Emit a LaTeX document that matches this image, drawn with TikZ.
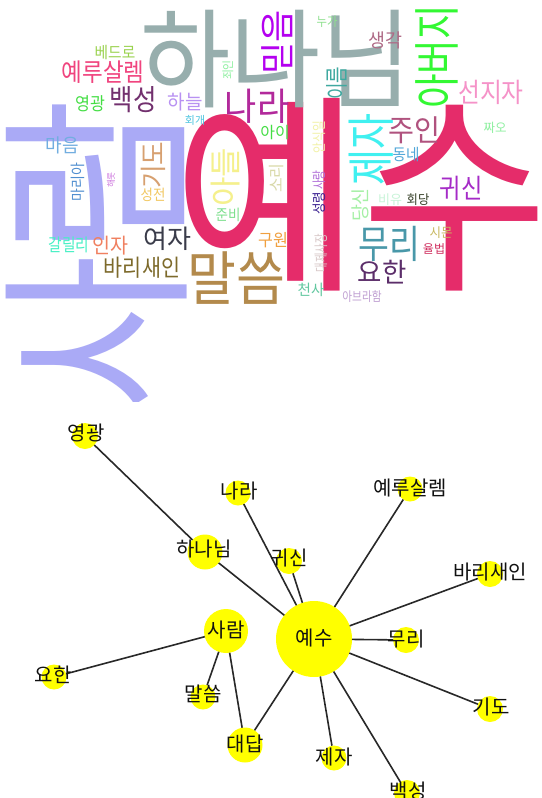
\documentclass[tikz,border=0pt]{standalone}
\usepackage{fontspec}
\usepackage{graphicx}
\newfontfamily\kr{Noto Sans CJK KR}
\tikzset{
  wcs/.style={inner sep=0pt, outer sep=0pt},
  gn/.style={circle, fill={rgb,255:red,255;green,255;blue,0}, draw=none, inner sep=0pt, outer sep=0pt},
  gl/.style={inner sep=0pt, text={rgb,255:red,17;green,17;blue,17}, font=\kr\fontsize{20}{20}\selectfont},
  edge/.style={draw={rgb,255:red,40;green,40;blue,40}, line width=1.6pt}
}
% \wc{name}{x}{y}{size}{hex}{rotate}{xscale}{text}
\newcommand\wc[8]{\definecolor{wctmp}{HTML}{#5}\node[wcs,rotate=#6,text=wctmp,font=\kr\fontsize{#4}{#4}\selectfont] (#1) at (#2,#3) {\scalebox{#7}[1]{#8}};}
\begin{document}
\begin{tikzpicture}[x=1pt,y=-1pt]
\useasboundingbox (0,0) rectangle (541,798);
\fill[white] (0,0) rectangle (541,798);
\begin{scope}
\clip (0,0) rectangle (541,401);
\wc{w2}{97}{255}{200}{AAAAF6}{90}{0.85}{사람}
\wc{w1}{361}{195}{213}{E52C6A}{0}{0.955}{예수}
\wc{w3}{276}{59}{108}{97AEAD}{0}{0.91}{하나님}
\wc{w4}{437}{57}{47}{33F833}{90}{0.8}{아버지}
\wc{w5}{236}{278}{59}{B38A4C}{0}{0.9}{말씀}
\wc{w6}{371}{149}{49}{40F0F0}{90}{0.8}{제자}
\wc{w7}{257}{106}{38}{B2299B}{0}{0.92}{나라}
\wc{w8}{277}{42}{35}{B400F0}{90}{1.0}{믿음}
\wc{w9}{103}{72}{25}{F0447E}{0}{0.9}{예루살렘}
\wc{w10}{133}{100}{29}{72306E}{0}{0.88}{백성}
\wc{w11}{185}{102}{20}{B891F2}{0}{0.95}{하늘}
\wc{w12}{90}{104}{18}{44DE44}{0}{0.9}{영광}
\wc{w13}{115}{53}{16}{9AD24E}{0}{0.92}{베드로}
\wc{w14}{62}{145}{19}{72AEE0}{0}{0.95}{마음}
\wc{w15}{153}{165}{27}{D7A070}{90}{0.95}{기도}
\wc{w16}{226}{177}{32}{F5F08C}{90}{1.0}{아들}
\wc{w17}{414}{130}{30}{B0527E}{0}{0.94}{주인}
\wc{w18}{491}{92}{27}{F592C8}{0}{0.88}{선지자}
\wc{w19}{461}{188}{27}{A52BC7}{0}{0.86}{귀신}
\wc{w20}{389}{244}{39}{4998A9}{0}{0.86}{무리}
\wc{w21}{382}{272}{27}{5C2E6A}{0}{0.98}{요한}
\wc{w22}{167}{239}{26}{3A3C4A}{0}{1.0}{여자}
\wc{w23}{142}{268}{23.5}{7D6A2B}{0}{0.88}{바리새인}
\wc{w24}{110}{246}{21}{F08060}{0}{0.93}{인자}
\wc{w25}{69}{245}{17.6}{48F0C5}{0}{0.84}{갈릴리}
\wc{w26}{337}{83}{23}{3FA9A0}{90}{0.78}{이름}
\wc{w27}{385}{40}{19}{AF6A86}{0}{0.97}{생각}
\wc{w28}{327}{22}{13}{8EE08E}{0}{0.87}{누가}
\wc{w29}{495}{128}{12.5}{8EF0A0}{0}{1.0}{짜오}
\wc{w30}{406}{155}{16}{4FA6D8}{0}{0.91}{동네}
\wc{w31}{418}{200}{13}{353F27}{0}{0.95}{회당}
\wc{w32}{390}{200}{13}{C8F4D8}{0}{1.0}{비유}
\wc{w33}{360}{205}{19}{A5F0A5}{90}{0.97}{당신}
\wc{w34}{319}{180}{14}{B06ED8}{90}{0.77}{사랑}
\wc{w35}{319}{203}{14}{3A2090}{90}{0.89}{성령}
\wc{w36}{319}{137}{14}{F2F2A8}{90}{0.83}{안식일}
\wc{w37}{277}{178}{16}{D9D9A9}{90}{1.0}{소리}
\wc{w38}{275}{133}{16}{44DD44}{0}{1.0}{아이}
\wc{w39}{195}{120}{11}{4FC5E0}{0}{1.0}{회개}
\wc{w40}{228}{70}{12}{8EF0A0}{90}{0.9}{죄인}
\wc{w41}{78}{182}{15}{4F8ED0}{90}{0.93}{마리아}
\wc{w42}{111}{180}{9}{D07EE0}{90}{0.96}{해롯}
\wc{w43}{153}{195}{15}{F2C862}{0}{0.9}{성전}
\wc{w44}{228}{215}{15}{7EE08E}{0}{0.9}{준비}
\wc{w45}{273}{240}{17}{F0A040}{0}{0.95}{구원}
\wc{w46}{321}{253}{14}{D8C8C8}{90}{0.74}{대제사장}
\wc{w47}{311}{290}{15}{62C8A0}{0}{0.97}{천사}
\wc{w48}{362}{297}{13}{C0A0D2}{0}{0.82}{아브라함}
\wc{w49}{441}{233}{13}{C8B860}{0}{0.96}{시몬}
\wc{w50}{434}{249}{12}{D03060}{0}{1.0}{율법}
\end{scope}
% graph nodes
\node[gn, minimum size=76pt] (n1) at (314,639) {};
\node[gn, minimum size=44pt] (n2) at (226,631) {};
\node[gn, minimum size=35pt] (n3) at (205,552) {};
\node[gn, minimum size=26pt] (n4) at (85,436) {};
\node[gn, minimum size=25pt] (n5) at (238,493) {};
\node[gn, minimum size=26pt] (n6) at (289,561) {};
\node[gn, minimum size=25pt] (n7) at (410,489) {};
\node[gn, minimum size=26pt] (n8) at (490,574) {};
\node[gn, minimum size=26pt] (n9) at (406,640) {};
\node[gn, minimum size=26pt] (n10) at (490,709) {};
\node[gn, minimum size=25pt] (n11) at (334,758) {};
\node[gn, minimum size=26pt] (n12) at (407,793) {};
\node[gn, minimum size=25pt] (n13) at (54,677) {};
\node[gn, minimum size=25pt] (n14) at (203,697) {};
\node[gn, minimum size=35pt] (n15) at (245,745) {};
% edges
\draw[edge] (n1) -- (n3);
\draw[edge] (n3) -- (n4);
\draw[edge] (n1) -- (n5);
\draw[edge] (n1) -- (n6);
\draw[edge] (n1) -- (n7);
\draw[edge] (n1) -- (n8);
\draw[edge] (n1) -- (n9);
\draw[edge] (n1) -- (n10);
\draw[edge] (n1) -- (n11);
\draw[edge] (n1) -- (n12);
\draw[edge] (n1) -- (n15);
\draw[edge] (n2) -- (n13);
\draw[edge] (n2) -- (n14);
\draw[edge] (n2) -- (n15);
% labels
\node[gl] (l1) at (314,638) {예수};
\node[gl] (l2) at (226,630) {사람};
\node[gl] (l3) at (204,549) {하나님};
\node[gl] (l4) at (86,433) {영광};
\node[gl] (l5) at (239,491) {나라};
\node[gl] (l6) at (289,558) {귀신};
\node[gl] (l7) at (410,488) {예루살렘};
\node[gl] (l8) at (490,572) {바리새인};
\node[gl] (l9) at (406,639) {무리};
\node[gl] (l10) at (491,707) {기도};
\node[gl] (l11) at (334,757) {제자};
\node[gl] (l12) at (408,791) {백성};
\node[gl] (l13) at (53,675) {요한};
\node[gl] (l14) at (203,694) {말씀};
\node[gl] (l15) at (245,744) {대답};
\end{tikzpicture}
\end{document}
